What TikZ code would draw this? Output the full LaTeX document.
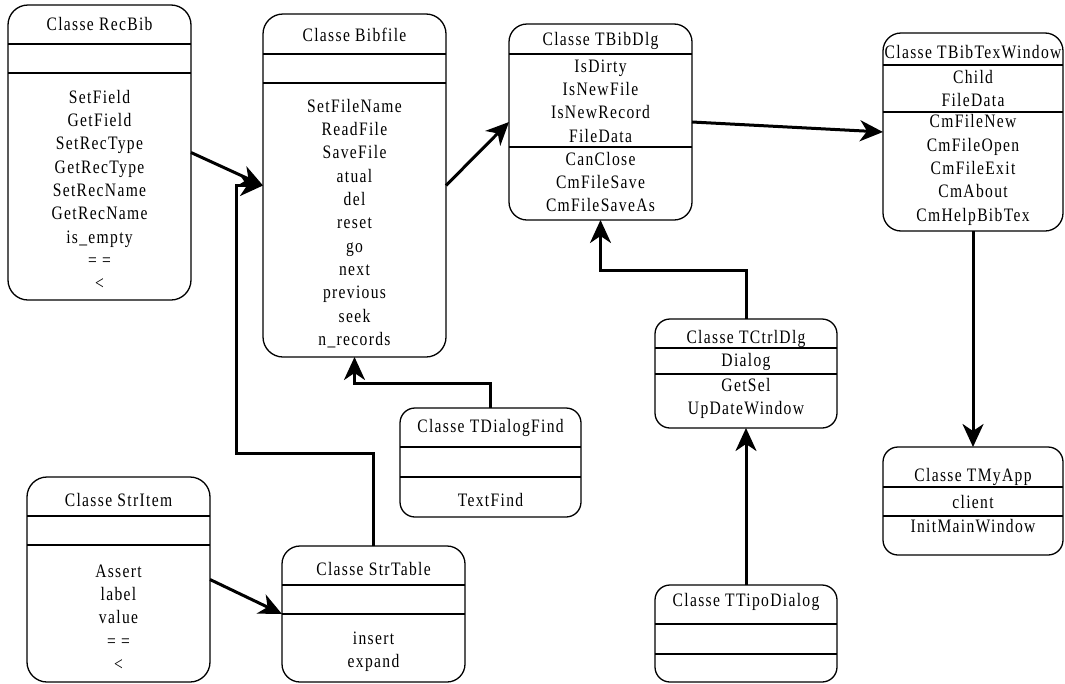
\documentclass[tikz,border=0pt]{standalone}
\usepackage{fontspec}
\setmainfont{Liberation Serif}[FakeStretch=0.82,LetterSpace=7]
\usetikzlibrary{arrows.meta,calc}

% horizontal compartment rule inside a class box, #2 below its top edge
\newcommand\classrule[2]{%
  \draw[rulestyle] ($(#1.north west)+(0,#2)$) -- ($(#1.north east)+(0,#2)$);}

\begin{document}
\begin{tikzpicture}[x=1pt,y=-1pt,
  classbox/.style={draw, line width=1.3pt, rounded corners=#1, inner sep=0pt,
    outer sep=0pt, anchor=north west},
  rulestyle/.style={line width=1.3pt},
  lbl/.style={font=\fontsize{19}{23.3}\selectfont, align=center, inner sep=0pt},
  conn/.style={line width=3pt, -{Stealth[length=23pt,width=21pt,inset=7pt]}},
]
\useasboundingbox (0,0) rectangle (1065,683);

% ---- Classe RecBib
\node[classbox=20pt, minimum width=183pt, minimum height=295pt] (recbib) at (8,5) {};
\classrule{recbib}{39}
\classrule{recbib}{68}
\node[lbl] (recbibT) at (99.5,24) {Classe RecBib};
\node[lbl] (recbibM) at (99.5,190) {SetField\\GetField\\SetRecType\\GetRecType\\SetRecName\\GetRecName\\is\_empty\\= =\\<};

% ---- Classe Bibfile
\node[classbox=20pt, minimum width=183pt, minimum height=343pt] (bibfile) at (263,14) {};
\classrule{bibfile}{40}
\classrule{bibfile}{69}
\node[lbl] (bibfileT) at (354.5,35) {Classe Bibfile};
\node[lbl] (bibfileM) at (354.5,223.5) {SetFileName\\ReadFile\\SaveFile\\atual\\del\\reset\\go\\next\\previous\\seek\\n\_records};

% ---- Classe TBibDlg
\node[classbox=18pt, minimum width=183pt, minimum height=196pt] (bibdlg) at (509,24) {};
\classrule{bibdlg}{30}
\classrule{bibdlg}{123}
\node[lbl] (bibdlgT) at (600.5,41) {Classe TBibDlg};
\node[lbl] (bibdlgA) at (600.5,101) {IsDirty\\IsNewFile\\IsNewRecord\\FileData};
\node[lbl] (bibdlgM) at (600.5,182) {CanClose\\CmFileSave\\CmFileSaveAs};

% ---- Classe TBibTexWindow
\node[classbox=18pt, minimum width=180pt, minimum height=198pt] (bibwin) at (883,33) {};
\classrule{bibwin}{32}
\classrule{bibwin}{79}
\node[lbl] (bibwinT) at (973,52) {Classe TBibTexWindow};
\node[lbl] (bibwinA) at (973,88.5) {Child\\FileData};
\node[lbl] (bibwinM) at (973,170) {CmFileNew\\CmFileOpen\\CmFileExit\\CmAbout\\CmHelpBibTex};

% ---- Classe TCtrlDlg
\node[classbox=15pt, minimum width=182pt, minimum height=109pt] (ctrldlg) at (655,319) {};
\classrule{ctrldlg}{29}
\classrule{ctrldlg}{55}
\node[lbl] (ctrldlgT) at (746,339) {Classe TCtrlDlg};
\node[lbl] (ctrldlgA) at (746,362) {Dialog};
\node[lbl] (ctrldlgM) at (746,398.5) {GetSel\\UpDateWindow};

% ---- Classe TDialogFind
\node[classbox=15pt, minimum width=181pt, minimum height=109pt] (dlgfind) at (400,408) {};
\classrule{dlgfind}{39}
\classrule{dlgfind}{69}
\node[lbl] (dlgfindT) at (490.5,428) {Classe TDialogFind};
\node[lbl] (dlgfindM) at (490.5,500) {TextFind};

% ---- Classe StrItem
\node[classbox=20pt, minimum width=183pt, minimum height=205pt] (stritem) at (27,477) {};
\classrule{stritem}{39}
\classrule{stritem}{68}
\node[lbl] (stritemT) at (118.5,500) {Classe StrItem};
\node[lbl] (stritemM) at (118.5,617.5) {Assert\\label\\value\\= =\\<};

% ---- Classe StrTable
\node[classbox=18pt, minimum width=183pt, minimum height=136pt] (strtable) at (282,546) {};
\classrule{strtable}{39}
\classrule{strtable}{68}
\node[lbl] (strtableT) at (373.5,569) {Classe StrTable};
\node[lbl] (strtableM) at (373.5,651.5) {insert\\expand};

% ---- Classe TTipoDialog
\node[classbox=15pt, minimum width=182pt, minimum height=97pt] (tipodlg) at (655,585) {};
\classrule{tipodlg}{39}
\classrule{tipodlg}{69}
\node[lbl] (tipodlgT) at (746,602) {Classe TTipoDialog};

% ---- Classe TMyApp
\node[classbox=15pt, minimum width=180pt, minimum height=108pt] (myapp) at (883,447) {};
\classrule{myapp}{40}
\classrule{myapp}{69}
\node[lbl] (myappT) at (973,477) {Classe TMyApp};
\node[lbl] (myappA) at (973,502) {client};
\node[lbl] (myappM) at (973,526) {InitMainWindow};

% ---- connectors
\draw[conn] (recbib.east) -- (bibfile.west);
\draw[conn] (bibfile.east) -- (bibdlg.west);
\draw[conn] (bibdlg.east) -- (bibwin.west);
\draw[conn] (bibwin.south) -- (myapp.north);
\draw[conn] (ctrldlg.north) -- ++(0,-49) -| (bibdlg.south);
\draw[conn] (tipodlg.north) -- (ctrldlg.south);
\draw[conn] (dlgfind.north) -- ++(0,-25) -| (bibfile.south);
\draw[conn] (strtable.north) -- ++(0,-93) -| ($(bibfile.west)+(-27,0)$) -- (bibfile.west);
\draw[conn] (stritem.east) -- ($(strtable.north west)+(0,68)$);
\end{tikzpicture}
\end{document}
